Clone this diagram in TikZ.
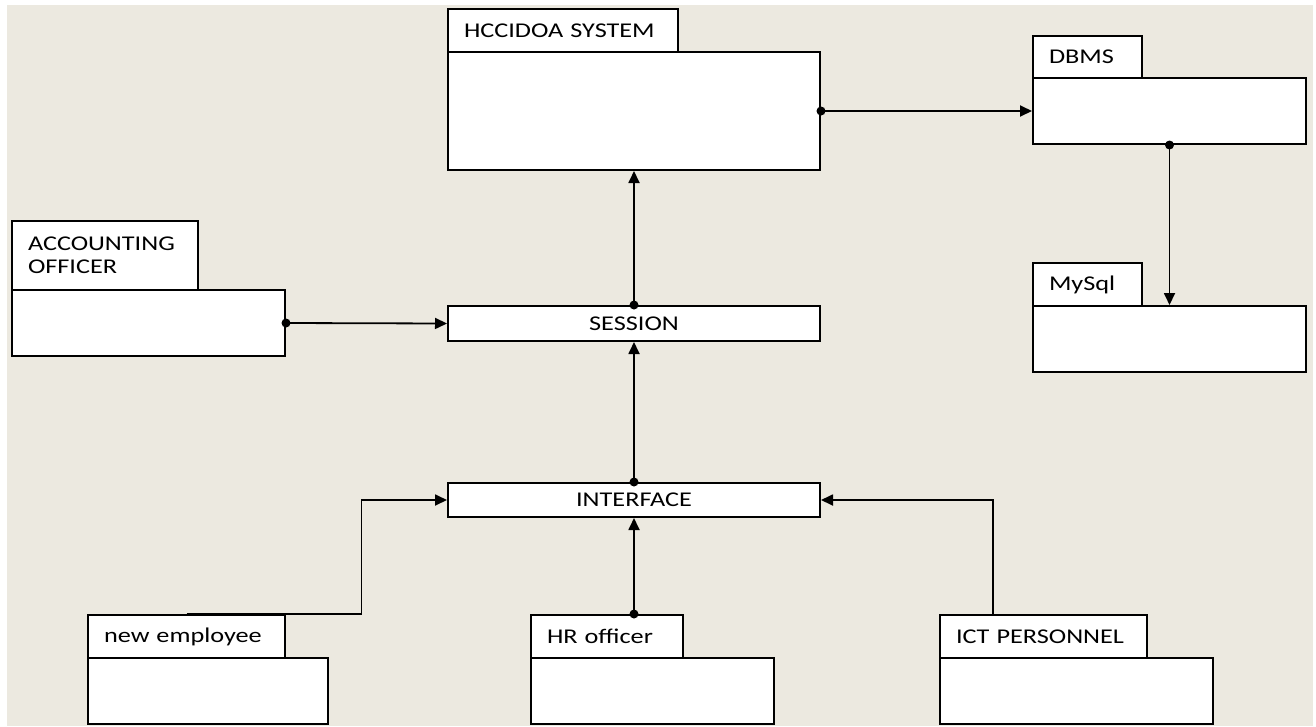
\documentclass[tikz,border=0pt]{standalone}
\usepackage{fontspec}
\setmainfont{Carlito}[FakeStretch=1.25]
\usetikzlibrary{arrows.meta}

\definecolor{paper}{RGB}{236,233,224}

\tikzset{
  tabbox/.style={draw, fill=white, line width=2pt, anchor=north west,
    inner xsep=16pt, inner ysep=0pt, align=left,
    font=\fontsize{21}{23.5}\selectfont},
  bodybox/.style={draw, fill=white, line width=2pt, anchor=north west, inner sep=0pt},
  barbox/.style={bodybox, font=\fontsize{21}{23.5}\selectfont},
  conn/.style={line width=1.8pt, -{Triangle[length=12pt,width=11pt]}},
  dot/.style={fill=black}
}

\begin{document}
\begin{tikzpicture}[x=1pt,y=-1pt]
      \useasboundingbox (0,0) rectangle (1316,726);
      \fill [white] (0,0) rectangle (1316,726);
      \fill [paper] (7,5) rectangle (1313,726);

      % system and database
      \node [tabbox, text width=198pt, minimum height=43pt] (sysTab) at (447,8) {HCCIDOA SYSTEM};
      \node [bodybox, minimum width=372pt, minimum height=118pt] (sysBody) at (447,51) {};
      \node [tabbox, text width=77pt, minimum height=42pt] (dbTab) at (1032,35) {DBMS};
      \node [bodybox, minimum width=273pt, minimum height=66pt] (dbBody) at (1032,77) {};
      \node [tabbox, text width=77pt, minimum height=43pt] (sqlTab) at (1032,262) {MySql};
      \node [bodybox, minimum width=273pt, minimum height=66pt] (sqlBody) at (1032,305) {};

      % actors
      \node [tabbox, text width=154pt, minimum height=69pt] (accTab) at (11,220) {ACCOUNTING\\OFFICER};
      \node [bodybox, minimum width=273pt, minimum height=66pt] (accBody) at (11,289) {};
      \node [tabbox, text width=165pt, minimum height=43pt] (newTab) at (87,614) {new employee};
      \node [bodybox, minimum width=240pt, minimum height=66pt] (newBody) at (87,657) {};
      \node [tabbox, text width=120pt, minimum height=43pt] (hrTab) at (530,614) {HR officer};
      \node [bodybox, minimum width=243pt, minimum height=66pt] (hrBody) at (530,657) {};
      \node [tabbox, text width=175pt, minimum height=43pt] (ictTab) at (939,614) {ICT PERSONNEL};
      \node [bodybox, minimum width=273pt, minimum height=66pt] (ictBody) at (939,657) {};

      % session and interface
      \node [barbox, minimum width=372pt, minimum height=35pt] (session) at (447,305) {SESSION};
      \node [barbox, minimum width=372pt, minimum height=34pt] (iface) at (447,482) {INTERFACE};

      % connectors
      \draw [conn] (sysBody.east) -- (dbBody.west);
      \draw [conn] (dbBody.south) -- (sqlBody.north);
      \draw [conn] (accBody.east) -- (session.west);
      \draw [conn] (session.north) -- (sysBody.south);
      \draw [conn] (iface.north) -- (session.south);
      \draw [conn] (iface.south |- hrTab.north) -- (iface.south);
      \draw [conn] (newTab.north) -- ++(175,0) |- (iface.west);
      \draw [conn] ([xshift=54pt]ictTab.north west) |- (iface.east);

      \fill [dot] (sysBody.east) circle [radius=4.5pt];
      \fill [dot] (dbBody.south) circle [radius=4.5pt];
      \fill [dot] (accBody.east) circle [radius=4.5pt];
      \fill [dot] (session.north) circle [radius=4.5pt];
      \fill [dot] (iface.north) circle [radius=4.5pt];
      \fill [dot] (iface.south |- hrTab.north) circle [radius=4.5pt];
\end{tikzpicture}
\end{document}
